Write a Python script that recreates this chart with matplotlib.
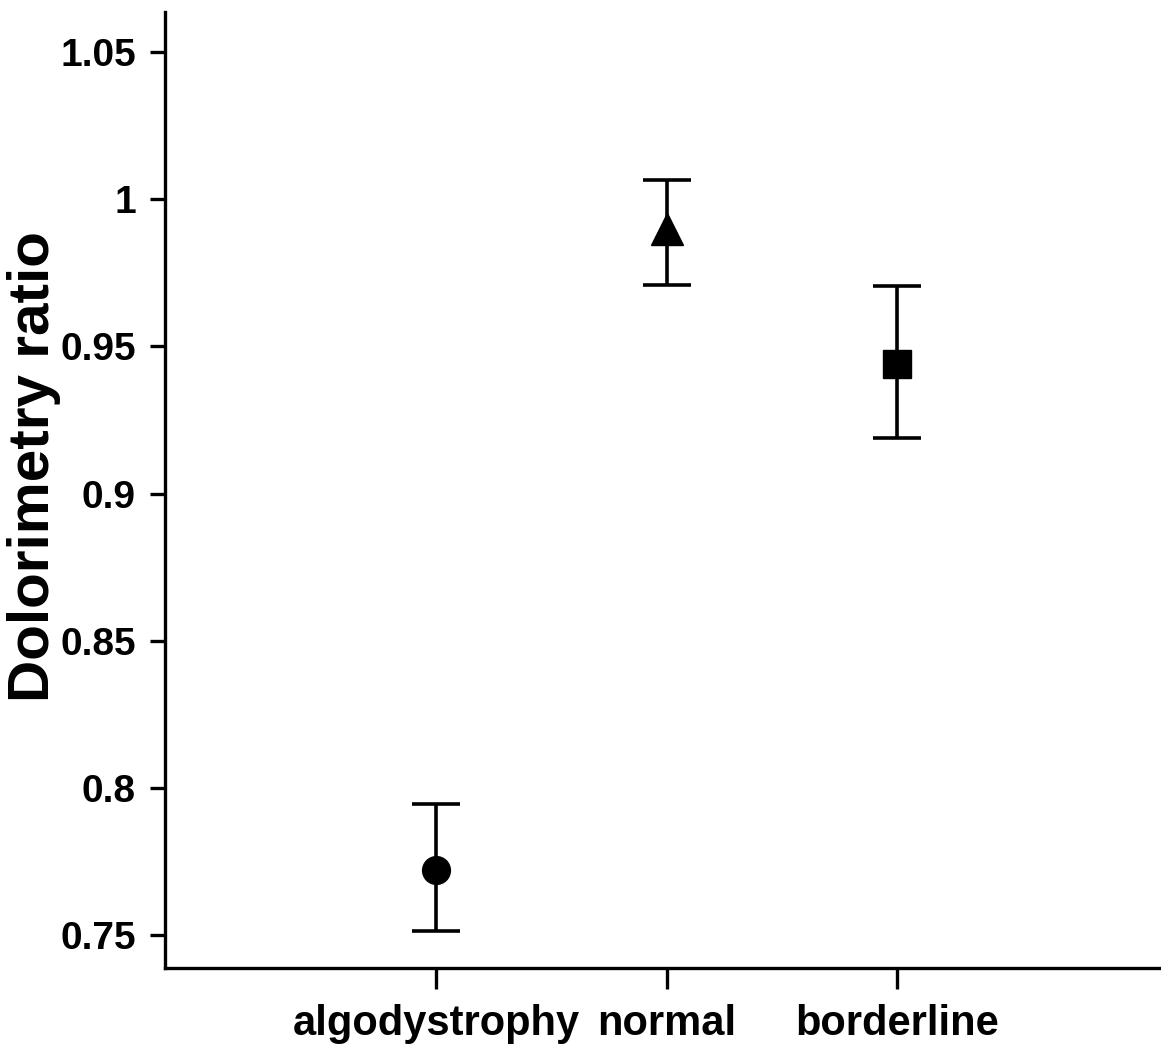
import matplotlib
matplotlib.use("Agg")
import matplotlib.pyplot as plt

categories = ["algodystrophy", "normal", "borderline"]
positions = [1, 2, 3]
means = [0.772, 0.990, 0.944]
upper = [0.7945, 1.0065, 0.9705]
lower = [0.7515, 0.9710, 0.9190]
markers = ["o", "^", "s"]
marker_sizes = [20, 23, 20]
yticks = [0.75, 0.8, 0.85, 0.9, 0.95, 1.0, 1.05]
ytick_labels = ["0.75", "0.8", "0.85", "0.9", "0.95", "1", "1.05"]

plt.rcParams['font.family'] = ['Liberation Sans', 'DejaVu Sans']
plt.rcParams['font.weight'] = 'bold'

fig = plt.figure(figsize=(11.61, 10.49), dpi=100)
ax = fig.add_axes([165/1161, 1-968/1049, 995/1161, 956/1049])

for x, m, u, l, mk, ms in zip(positions, means, upper, lower, markers, marker_sizes):
    ax.errorbar([x], [m], yerr=[[m - l], [u - m]], fmt=mk, color='black',
                markersize=ms, ecolor='black', elinewidth=2.6, capsize=17,
                capthick=2.6, zorder=3)

ax.set_xlim(-0.176, 4.141)
ax.set_ylim(0.7388, 1.0636)
ax.set_xticks(positions)
ax.set_xticklabels(categories, fontsize=30, fontweight='bold')
ax.set_yticks(yticks)
ax.set_yticklabels(ytick_labels, fontsize=28, fontweight='bold')
ax.set_ylabel("Dolorimetry ratio", fontsize=42, fontweight='bold')
ax.yaxis.set_label_coords(-0.105, 0.525)

for s in ['top', 'right']:
    ax.spines[s].set_visible(False)
for s in ['left', 'bottom']:
    ax.spines[s].set_linewidth(2.4)

ax.tick_params(axis='y', length=11, width=2.4, pad=10)
ax.tick_params(axis='x', length=15, width=2.4, pad=11)

fig.savefig("out.png", dpi=100, facecolor='white')
